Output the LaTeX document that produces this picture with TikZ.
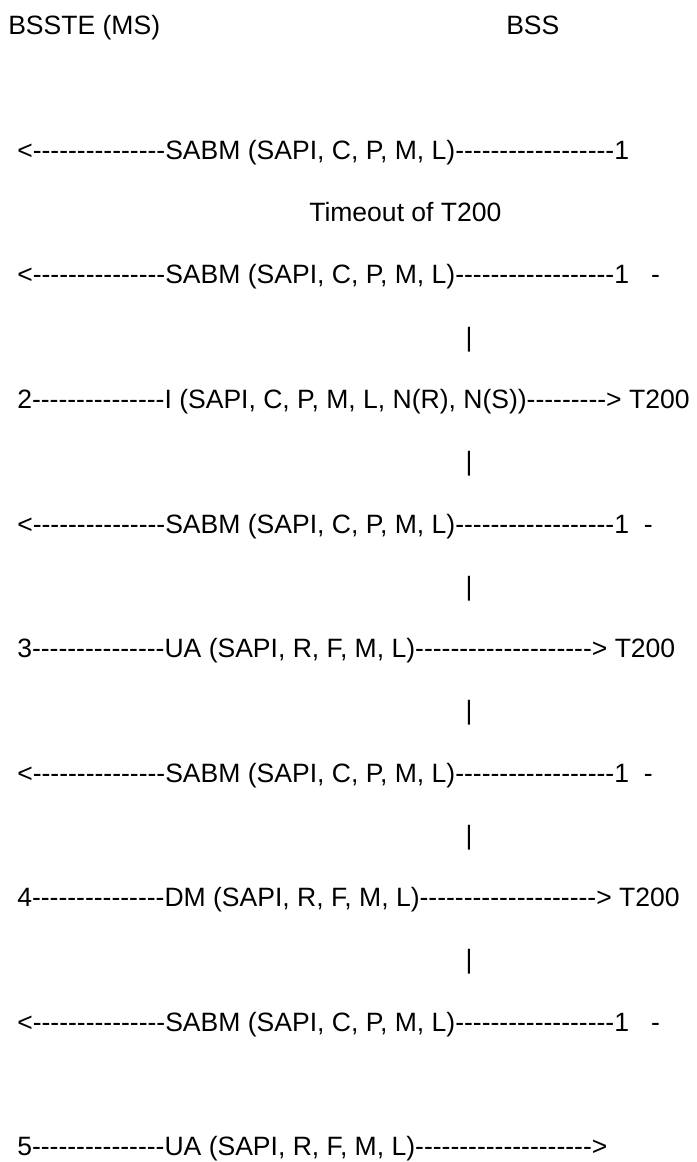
\documentclass[tikz,border=0pt]{standalone}
\usepackage{fontspec}
\setmainfont{Liberation Sans}[Ligatures=TeXOff]
\usepackage{tikz}

% a run of n hyphens
\newcommand{\dashes}[1]{\foreach \n in {1,...,#1}{-}}

\begin{document}
\begin{tikzpicture}[x=0.75pt,y=-0.75pt,
  every node/.style={inner sep=0pt,font=\fontsize{19.9}{24}\selectfont},
  msg/.style={anchor=base west}]
\useasboundingbox (0,0) rectangle (696,1162);
% header
\node[msg] (ms) at (8,35) {BSSTE (MS)};
\node[msg] (bss) at (506,35) {BSS};
% messages, one row every 124.5
\node[msg] (sabma) at (17,159.5) {<\dashes{15}SABM (SAPI, C, P, M, L)\dashes{18}1};
\node[msg] (timeout) at (309,221.75) {Timeout of T200};
\node[msg] (sabmb) at (17,284) {<\dashes{15}SABM (SAPI, C, P, M, L)\dashes{18}1~~~-};
\node[msg] (iframe) at (17,408.5) {2\dashes{15}I (SAPI, C, P, M, L, N(R), N(S))\dashes{9}> T200};
\node[msg] (sabmc) at (17,533) {<\dashes{15}SABM (SAPI, C, P, M, L)\dashes{18}1~~-};
\node[msg] (uaa) at (17,657.5) {3\dashes{15}UA (SAPI, R, F, M, L)\dashes{20}> T200};
\node[msg] (sabmd) at (17,782) {<\dashes{15}SABM (SAPI, C, P, M, L)\dashes{18}1~~-};
\node[msg] (dm) at (17,906.5) {4\dashes{15}DM (SAPI, R, F, M, L)\dashes{20}> T200};
\node[msg] (sabme) at (17,1031) {<\dashes{15}SABM (SAPI, C, P, M, L)\dashes{18}1~~~-};
\node[msg] (uab) at (17,1155.5) {5\dashes{15}UA (SAPI, R, F, M, L)\dashes{20}>};
% T200 bars between the rows
\foreach \k in {2,...,7}
  \node[anchor=base] (bar\k) at (469,{35+124.5*(\k+0.5)}) {|};
\end{tikzpicture}
\end{document}
